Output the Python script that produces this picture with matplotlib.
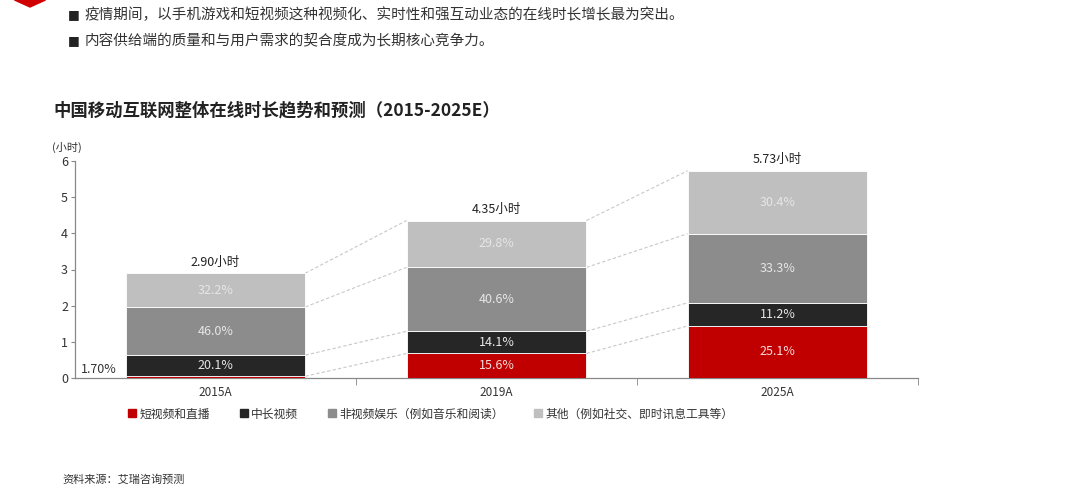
import numpy as np
import matplotlib
matplotlib.use("Agg")
import matplotlib.pyplot as plt
from matplotlib.lines import Line2D
from matplotlib.patches import RegularPolygon

plt.rcParams['font.family'] = ['Noto Sans CJK SC', 'DejaVu Sans']

# ── data ─────────────────────────────────────────────────────────────────────
years = ["2015A", "2019A", "2025A"]
totals = [2.90, 4.35, 5.73]
series_names = ["短视频和直播", "中长视频", "非视频娱乐（例如音乐和阅读）",
                "其他（例如社交、即时讯息工具等）"]
shares = {
    "短视频和直播": [1.7, 15.6, 25.1],
    "中长视频": [20.1, 14.1, 11.2],
    "非视频娱乐（例如音乐和阅读）": [46.0, 40.6, 33.3],
    "其他（例如社交、即时讯息工具等）": [32.2, 29.8, 30.4],
}
colors = ["#c00000", "#262626", "#8c8c8c", "#bfbfbf"]
bullets = [
    "疫情期间，以手机游戏和短视频这种视频化、实时性和强互动业态的在线时长增长最为突出。",
    "内容供给端的质量和与用户需求的契合度成为长期核心竞争力。",
]
title = "中国移动互联网整体在线时长趋势和预测（2015-2025E）"
source = "资料来源：艾瑞咨询预测"

# ── figure ───────────────────────────────────────────────────────────────────
W, H = 1080, 488
fig = plt.figure(figsize=(W / 100, H / 100), dpi=100)
ax = fig.add_axes([75 / W, 1 - 378 / H, (918 - 75) / W, (378 - 161) / H])

x = np.arange(len(years))
bw = 0.64
bottom = np.zeros(len(years))
tops = []
for name, col in zip(series_names, colors):
    h = np.array(totals) * np.array(shares[name]) / 100
    ax.bar(x, h, bw, bottom=bottom, color=col, edgecolor="white", linewidth=0.6, zorder=3)
    for i in range(len(years)):
        pct = shares[name][i]
        if pct < 5:
            # tiny segment: label sits to the left of the bar
            ax.text(x[i] - bw / 2 - 0.03, bottom[i] + h[i] / 2 + 0.22, f"{pct:.2f}%",
                    ha="right", va="center", fontsize=9, color="#333333")
        else:
            tc = "#f2dcdc" if col == "#c00000" else "#e6e6e6"
            ax.text(x[i], bottom[i] + h[i] / 2, f"{pct:.1f}%", ha="center", va="center",
                    fontsize=9, color=tc, zorder=4)
    bottom = bottom + h
    tops.append(bottom.copy())

# dashed connectors between bars
for cum in tops:
    for i in range(len(years) - 1):
        ax.plot([x[i] + bw / 2, x[i + 1] - bw / 2], [cum[i], cum[i + 1]],
                ls=(0, (3, 2)), color="#c8c8c8", lw=0.8, zorder=2)

for i, t in enumerate(totals):
    ax.text(x[i], t + 0.12, f"{t:.2f}小时", ha="center", va="bottom",
            fontsize=9, color="#222222")

ax.set_xlim(-0.5, 2.5)
ax.set_ylim(0, 6)
ax.set_yticks(range(0, 7))
ax.set_xticks(x)
ax.set_xticklabels(years)
ax.set_xticks([0.5, 1.5, 2.5], minor=True)
ax.tick_params(axis="x", which="major", length=0, pad=6, labelsize=8.5, colors="#333333")
ax.tick_params(axis="x", which="minor", length=5, color="#888888", direction="out")
ax.tick_params(axis="y", length=3, color="#888888", labelsize=9, colors="#333333", pad=2)
for s in ("top", "right"):
    ax.spines[s].set_visible(False)
for s in ("left", "bottom"):
    ax.spines[s].set_color("#888888")
    ax.spines[s].set_linewidth(0.9)
fig.text(52 / W, 1 - 147 / H, "(小时)", ha="left", va="center", fontsize=8, color="#333333")

# legend
handles = [Line2D([], [], marker="s", ls="", color=c, markersize=5.5) for c in colors]
fig.legend(handles, series_names, loc="center left", ncol=4,
           bbox_to_anchor=(124 / W, 1 - 414 / H), frameon=False, fontsize=8.5,
           handlelength=0.6, handletextpad=0.3, columnspacing=2.6, borderaxespad=0,
           labelcolor="#333333")

# header texts
for k, line in enumerate(bullets):
    yy = 1 - (15 + 26 * k) / H
    fig.text(68 / W, yy, "■", ha="left", va="center", fontsize=9, color="#222222",
             family=["DejaVu Sans"])
    fig.text(85 / W, yy, line, ha="left", va="center", fontsize=10.5, color="#333333")
fig.text(53 / W, 1 - 110 / H, title, ha="left", va="center", fontsize=12.5,
         fontweight="bold", color="#222222")
fig.text(62 / W, 1 - 479 / H, source, ha="left", va="center", fontsize=8, color="#333333")

# red diamond mark, cut at the top edge
fig.patches.append(RegularPolygon((30 / W, 1.0), 4, radius=7 / H, color="#d00000",
                                  transform=fig.transFigure, figure=fig))

fig.savefig("out.png", dpi=100)
